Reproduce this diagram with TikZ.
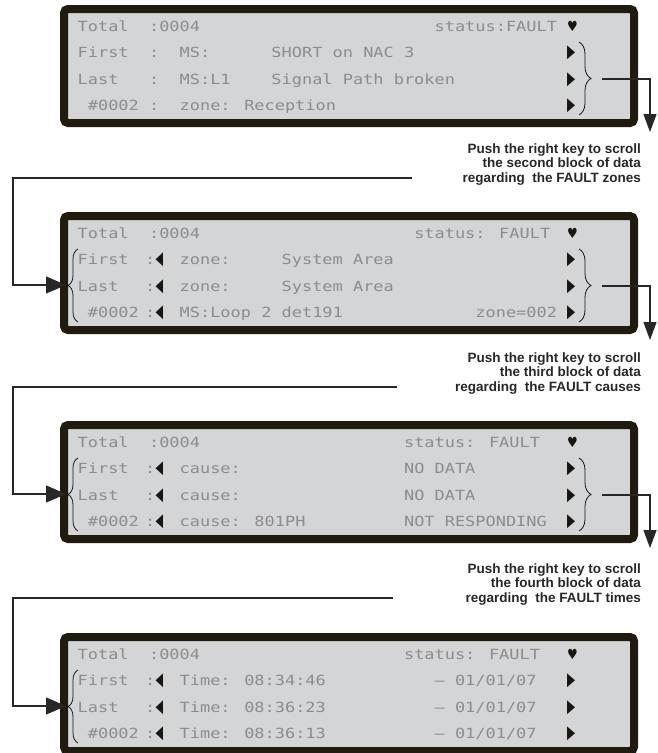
\documentclass[tikz,border=0pt]{standalone}
\usepackage{fontspec}
\setmainfont{Liberation Sans}
\newfontfamily\lcdfont[FakeStretch=1.21]{DejaVu Sans Mono}
\newfontfamily\symfont{DejaVu Sans}
\usepackage{tikz}
\usetikzlibrary{
    arrows.meta,
    decorations.pathreplacing,
    calc
}
\definecolor{lcdback}{RGB}{212,213,215}
\definecolor{lcdframe}{RGB}{33,26,14}
\definecolor{lcdgray}{RGB}{140,140,140}
\definecolor{markblack}{RGB}{25,22,18}
\definecolor{linegray}{RGB}{40,38,38}

\newlength\lcdw
\AtBeginDocument{\settowidth\lcdw{\lcdfont\fontsize{14}{16}\selectfont 0}}
% text at a fixed column of the display
\newcommand\lcdcell[2]{\makebox[0pt][l]{\hspace*{#1\lcdw}#2}}
\newcommand\ltri{\textcolor{markblack}{\symfont\scalebox{0.7}[1.3]{◀}}}
\newcommand\rtri{\textcolor{markblack}{\symfont\scalebox{0.75}[1.3]{▶}}}
\newcommand\lcdheart{\textcolor{markblack}{\symfont\scalebox{0.85}[1.0]{♥}}}
\newcommand\lcdsep{\lcdcell{6.6}{:}\lcdcell{7.65}{\ltri}}

\tikzset{
    lcdpanel/.style={
        rectangle,
        rounded corners=4pt,
        draw=lcdframe,
        fill=lcdback,
        line width=8pt,
        minimum width=570pt,
        minimum height=114pt,
        inner sep=0pt
    },
    lcd/.style={
        anchor=base west,
        inner sep=0pt,
        font=\lcdfont\fontsize{14}{16}\selectfont,
        text=lcdgray
    },
    hint/.style={
        anchor=base east,
        align=right,
        inner sep=0pt,
        font=\bfseries\fontsize{13.5}{14.5}\selectfont,
        text=linegray
    },
    rbrace/.style={
        decorate,
        decoration={brace, amplitude=12pt},
        draw=markblack,
        line width=0.8pt
    },
    lbrace/.style={
        decorate,
        decoration={brace, amplitude=10pt},
        draw=markblack,
        line width=0.8pt
    },
    flow/.style={
        -{Triangle[length=18pt, width=13pt]},
        draw=linegray,
        line width=1.3pt
    },
    feed/.style={
        -{Triangle[length=20pt, width=17pt]},
        draw=linegray,
        line width=1.3pt
    }
}

\begin{document}
\begin{tikzpicture}[x=1pt, y=-1pt]
\useasboundingbox (0,0) rectangle (657,753);

\node[lcdpanel] (lcd1) at (349,66) {};
\node[lcdpanel] (lcd2) at (349,273) {};
\node[lcdpanel] (lcd3) at (349,482) {};
\node[lcdpanel] (lcd4) at (349,694) {};

% first block
\node[lcd] (p1r0) at (77,31) {\lcdcell{0}{Total}\lcdcell{7}{:0004}\lcdcell{35}{status:FAULT}\lcdcell{48}{\lcdheart}};
\node[lcd] (p1r1) at (77,57.5) {\lcdcell{0}{First}\lcdcell{7}{:}\lcdcell{10}{MS:}\lcdcell{19}{SHORT on NAC 3}\lcdcell{48}{\rtri}};
\node[lcd] (p1r2) at (77,84) {\lcdcell{0}{Last}\lcdcell{7}{:}\lcdcell{10}{MS:L1}\lcdcell{19}{Signal Path broken}\lcdcell{48}{\rtri}};
\node[lcd] (p1r3) at (77,110.5) {\lcdcell{1}{\#0002}\lcdcell{7}{:}\lcdcell{10}{zone: Reception}\lcdcell{48}{\rtri}};

% second block
\node[lcd] (p2r0) at (77,238) {\lcdcell{0}{Total}\lcdcell{7}{:0004}\lcdcell{33}{status: FAULT}\lcdcell{48}{\lcdheart}};
\node[lcd] (p2r1) at (77,264.5) {\lcdcell{0}{First}\lcdsep\lcdcell{10}{zone:}\lcdcell{20}{System Area}\lcdcell{48}{\rtri}};
\node[lcd] (p2r2) at (77,291) {\lcdcell{0}{Last}\lcdsep\lcdcell{10}{zone:}\lcdcell{20}{System Area}\lcdcell{48}{\rtri}};
\node[lcd] (p2r3) at (77,317.5) {\lcdcell{1}{\#0002}\lcdsep\lcdcell{10}{MS:Loop 2 det191}\lcdcell{39}{zone=002}\lcdcell{48}{\rtri}};

% third block
\node[lcd] (p3r0) at (77,447) {\lcdcell{0}{Total}\lcdcell{7}{:0004}\lcdcell{32}{status: FAULT}\lcdcell{48}{\lcdheart}};
\node[lcd] (p3r1) at (77,473.5) {\lcdcell{0}{First}\lcdsep\lcdcell{10}{cause:}\lcdcell{32}{NO DATA}\lcdcell{48}{\rtri}};
\node[lcd] (p3r2) at (77,500) {\lcdcell{0}{Last}\lcdsep\lcdcell{10}{cause:}\lcdcell{32}{NO DATA}\lcdcell{48}{\rtri}};
\node[lcd] (p3r3) at (77,526.5) {\lcdcell{1}{\#0002}\lcdsep\lcdcell{10}{cause: 801PH}\lcdcell{32}{NOT RESPONDING}\lcdcell{48}{\rtri}};

% fourth block
\node[lcd] (p4r0) at (77,659) {\lcdcell{0}{Total}\lcdcell{7}{:0004}\lcdcell{32}{status: FAULT}\lcdcell{48}{\lcdheart}};
\node[lcd] (p4r1) at (77,685.5) {\lcdcell{0}{First}\lcdsep\lcdcell{10}{Time: 08:34:46}\lcdcell{35}{– 01/01/07}\lcdcell{48}{\rtri}};
\node[lcd] (p4r2) at (77,712) {\lcdcell{0}{Last}\lcdsep\lcdcell{10}{Time: 08:36:23}\lcdcell{35}{– 01/01/07}\lcdcell{48}{\rtri}};
\node[lcd] (p4r3) at (77,738.5) {\lcdcell{1}{\#0002}\lcdsep\lcdcell{10}{Time: 08:36:13}\lcdcell{35}{– 01/01/07}\lcdcell{48}{\rtri}};

% hints
\node[hint] (hint1) at (641,182) {Push the right key to scroll\\the second block of data\\regarding\ \ the FAULT zones};
\node[hint] (hint2) at (641,391) {Push the right key to scroll\\the third block of data\\regarding\ \ the FAULT causes};
\node[hint] (hint3) at (641,602) {Push the right key to scroll\\the fourth block of data\\regarding\ \ the FAULT times};

% braces
\draw[rbrace] (579,42) -- (579,115);
\draw[rbrace] (579,249) -- (579,322);
\draw[rbrace] (579,458) -- (579,531);
\draw[lbrace] (78,322) -- (78,249);
\draw[lbrace] (78,531) -- (78,458);
\draw[lbrace] (78,743) -- (78,670);

\coordinate (out1) at (602,79);
\coordinate (down1) at (650,132);
\coordinate (out2) at (602,286);
\coordinate (down2) at (650,340);
\coordinate (out3) at (602,495);
\coordinate (down3) at (650,548);
\coordinate (back2) at (412,178);
\coordinate (in2) at (66,285);
\coordinate (back3) at (397,387);
\coordinate (in3) at (66,494);
\coordinate (back4) at (393,598);
\coordinate (in4) at (66,706);

\draw[flow] (out1) -| (down1);
\draw[flow] (out2) -| (down2);
\draw[flow] (out3) -| (down3);
\draw[feed] (back2) -| ([xshift=-53pt]in2) -- (in2);
\draw[feed] (back3) -| ([xshift=-53pt]in3) -- (in3);
\draw[feed] (back4) -| ([xshift=-53pt]in4) -- (in4);
\end{tikzpicture}
\end{document}
